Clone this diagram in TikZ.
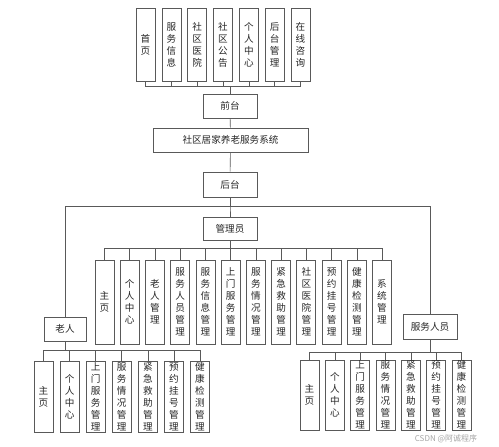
\documentclass[tikz,border=0pt]{standalone}
\usepackage{fontspec}
\setmainfont{Noto Sans CJK SC}

\begin{document}
\begin{tikzpicture}[x=1pt,y=-1pt,
    box/.style = {draw=black!65, line width=0.7pt, inner sep=0pt, align=center,
                  text=black!85, font=\fontsize{9.6}{12}\selectfont},
    tall/.style = {box, minimum width=19pt},
    wide/.style = {box, minimum width=54pt, minimum height=24pt},
    link/.style = {draw=black!65, line width=0.6pt}]
    \useasboundingbox (0,0) rectangle (499,447);
    % front pages
    \foreach \t [count=\i] in {{首\\页},{服\\务\\信\\息},{社\\区\\医\\院},{社\\区\\公\\告},
                               {个\\人\\中\\心},{后\\台\\管\\理},{在\\线\\咨\\询}}
        \node[tall, minimum height=73pt] (t\i) at (119.7+25.83*\i,44.5) {\t};
    \node[wide] (front) at (230,106) {前台};
    \node[box, minimum width=155pt, minimum height=24pt] (sys) at (230.5,140) {社区居家养老服务系统};
    \node[wide, minimum height=25pt] (back) at (230,184.5) {后台};
    \node[wide, minimum height=23pt] (admin) at (230,228.5) {管理员};
    \node[box, minimum width=42pt, minimum height=24pt] (old) at (65,329) {老人};
    \node[wide, minimum height=25pt] (staff) at (430,326.5) {服务人员};
    \foreach \i in {1,...,7}
        \draw[link] (t\i.south) -- ++(0,5) -| (front.north);
    \draw[link] (front) -- (sys);
    \draw[link] (sys) -- (back);
    \draw[link] (back.south) -- ++(0,9) -| (admin.north);
    \draw[link] (back.south) -- ++(0,9) -| (old.north);
    \draw[link] (back.south) -- ++(0,9) -| (staff.north);
    % admin
    \foreach \t [count=\i] in {{主\\页},{个\\人\\中\\心},{老\\人\\管\\理},{服\\务\\人\\员\\管\\理},
                               {服\\务\\信\\息\\管\\理},{上\\门\\服\\务\\管\\理},{服\\务\\情\\况\\管\\理},
                               {紧\\急\\救\\助\\管\\理},{社\\区\\医\\院\\管\\理},{预\\约\\挂\\号\\管\\理},
                               {健\\康\\检\\测\\管\\理},{系\\统\\管\\理}} {
        \node[tall, minimum height=84pt] (a\i) at (79.27+25.23*\i,302) {\t};
        \draw[link] (admin.south) -- ++(0,8) -| (a\i.north);
    }
    % old people and staff
    \foreach \t [count=\i] in {{主\\页},{个\\人\\中\\心},{上\\门\\服\\务\\管\\理},{服\\务\\情\\况\\管\\理},
                               {紧\\急\\救\\助\\管\\理},{预\\约\\挂\\号\\管\\理},{健\\康\\检\\测\\管\\理}} {
        \node[tall, minimum height=71pt] (o\i) at (17.42+26.08*\i,396.5) {\t};
        \draw[link] (old.south) -- ++(0,9) -| (o\i.north);
        \node[tall, minimum height=70pt] (s\i) at (284.17+25.33*\i,395) {\t};
        \draw[link] (staff.south) -- ++(0,13) -| (s\i.north);
    }
    \node[text=black!35, font=\fontsize{8}{9}\selectfont] (mark) at (446,439) {CSDN @阿诚程序};
\end{tikzpicture}
\end{document}
